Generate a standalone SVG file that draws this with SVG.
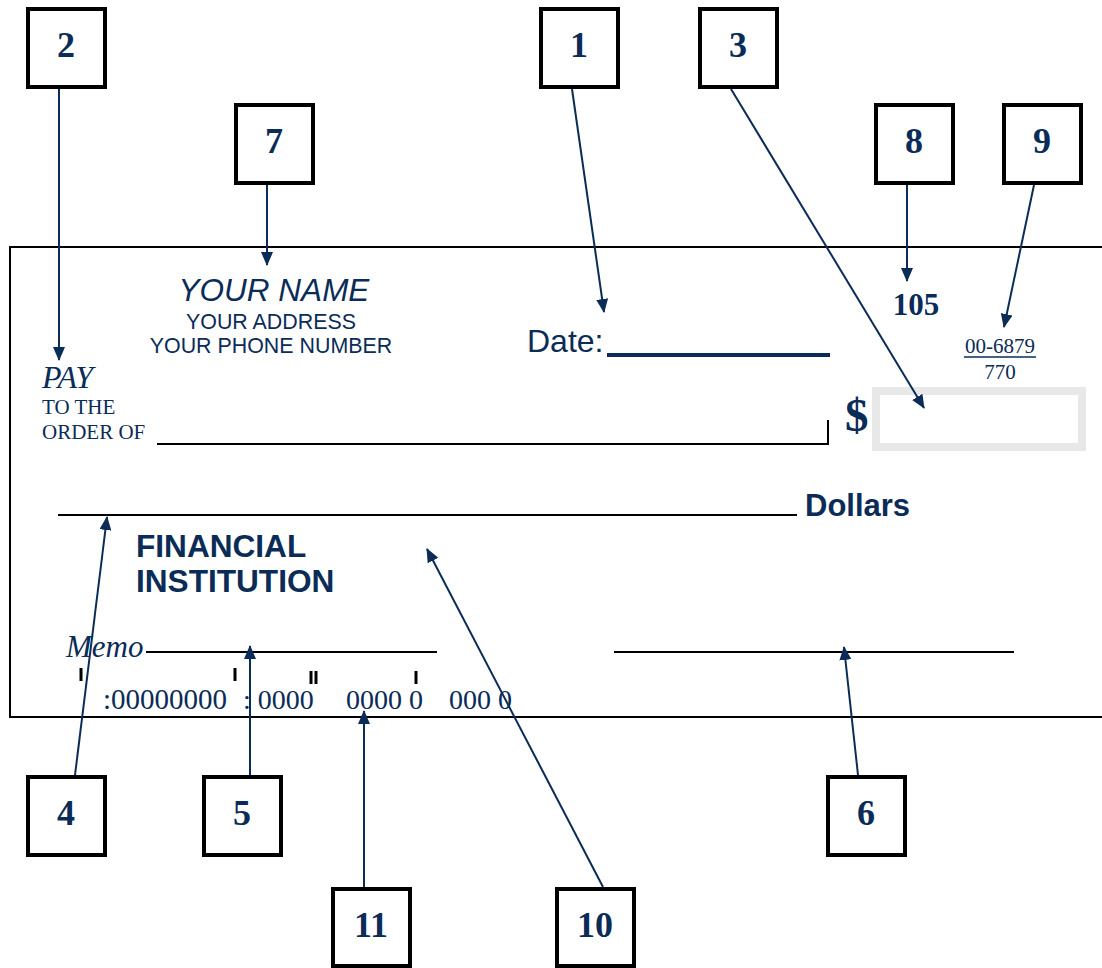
<svg xmlns="http://www.w3.org/2000/svg" width="1102" height="968" viewBox="0 0 1102 968">
<style>
.box{fill:#fff;stroke:#000;stroke-width:4}
.num{font-family:"Liberation Serif",serif;font-weight:bold;font-size:36px;fill:#0a2c57;text-anchor:middle}
.con{stroke:#0a2c57;stroke-width:2;fill:none;marker-end:url(#ah)}
.sans{font-family:"Liberation Sans",Arial,sans-serif;fill:#0a2c57}
.serif{font-family:"Liberation Serif",serif;fill:#0a2c57}
.rule{stroke:#000;stroke-width:2;fill:none}
</style>
<defs>
<marker id="ah" markerUnits="userSpaceOnUse" markerWidth="14" markerHeight="12" refX="13" refY="6" orient="auto">
<path d="M0,0 L14,6 L0,12 Z" fill="#0a2c57"/>
</marker>
</defs>
<rect width="1102" height="968" fill="#fff"/>
<g id="check">
<rect x="10" y="247" width="1100" height="470" fill="none" stroke="#000" stroke-width="2"/>
<text class="sans" x="274" y="301" font-size="31.5" font-style="italic" text-anchor="middle">YOUR NAME</text>
<text class="sans" x="271" y="329" font-size="21.4" text-anchor="middle">YOUR ADDRESS</text>
<text class="sans" x="271" y="353" font-size="21.4" text-anchor="middle">YOUR PHONE NUMBER</text>
<text class="sans" x="527" y="352" font-size="32">Date:</text>
<line x1="607" y1="355" x2="830" y2="355" stroke="#0a2c57" stroke-width="4"/>
<text class="serif" x="916" y="315" font-size="31" font-weight="bold" text-anchor="middle">105</text>
<text class="serif" x="1000" y="353" font-size="21" text-anchor="middle">00-6879</text>
<line x1="964" y1="357" x2="1036" y2="357" stroke="#0a2c57" stroke-width="1.5"/>
<text class="serif" x="1000" y="379" font-size="21" text-anchor="middle">770</text>
<text class="serif" x="42" y="388" font-size="32" font-style="italic">PAY</text>
<text class="serif" x="42" y="414" font-size="21">TO THE</text>
<text class="serif" x="42" y="439" font-size="21">ORDER OF</text>
<path class="rule" d="M157,444 H828 V420"/>
<text class="serif" x="845" y="431" font-size="47" font-weight="bold">$</text>
<rect x="876" y="391" width="206" height="56" fill="none" stroke="#e8e8e8" stroke-width="8"/>
<line class="rule" x1="58" y1="515" x2="797" y2="515"/>
<text class="sans" x="805" y="516" font-size="31" font-weight="bold">Dollars</text>
<text class="sans" x="136" y="557" font-size="31.6" font-weight="bold">FINANCIAL</text>
<text class="sans" x="136" y="592" font-size="31.6" font-weight="bold">INSTITUTION</text>
<text class="serif" x="66" y="657" font-size="31" font-style="italic">Memo</text>
<line class="rule" x1="146" y1="652" x2="437" y2="652"/>
<line class="rule" x1="614" y1="652" x2="1014" y2="652"/>
<g stroke="#000" stroke-width="3">
<line x1="81" y1="668" x2="81" y2="681"/>
<line x1="235" y1="668" x2="235" y2="681"/>
<line x1="311" y1="671" x2="311" y2="684"/>
<line x1="316" y1="671" x2="316" y2="684"/>
<line x1="416" y1="671" x2="416" y2="684"/>
</g>
<text class="serif" x="103" y="709" font-size="29">:00000000</text>
<text class="serif" x="243" y="709" font-size="28">: 0000</text>
<text class="serif" x="346" y="709" font-size="28">0000 0</text>
<text class="serif" x="449" y="709" font-size="28">000 0</text>
</g>
<g id="connectors">
<line class="con" x1="59" y1="89" x2="59" y2="360"/>
<line class="con" x1="267" y1="185" x2="267" y2="265"/>
<line class="con" x1="572" y1="89" x2="604" y2="312"/>
<line class="con" x1="731" y1="89" x2="924" y2="408"/>
<line class="con" x1="907" y1="185" x2="907" y2="281"/>
<line class="con" x1="1034" y1="185" x2="1004" y2="327"/>
<line class="con" x1="75" y1="775" x2="107" y2="517"/>
<line class="con" x1="250" y1="775" x2="250" y2="646"/>
<line class="con" x1="364" y1="887" x2="364" y2="711"/>
<line class="con" x1="603" y1="887" x2="427" y2="549"/>
<line class="con" x1="858" y1="775" x2="844" y2="647"/>
</g>
<g id="n2"><rect class="box" x="28" y="9" width="77" height="78"/><text class="num" x="66" y="57">2</text></g>
<g id="n1"><rect class="box" x="541" y="9" width="77" height="78"/><text class="num" x="579" y="57">1</text></g>
<g id="n3"><rect class="box" x="700" y="9" width="77" height="78"/><text class="num" x="738" y="57">3</text></g>
<g id="n7"><rect class="box" x="236" y="105" width="77" height="78"/><text class="num" x="274" y="153">7</text></g>
<g id="n8"><rect class="box" x="876" y="105" width="77" height="78"/><text class="num" x="914" y="153">8</text></g>
<g id="n9"><rect class="box" x="1004" y="105" width="77" height="78"/><text class="num" x="1042" y="153">9</text></g>
<g id="n4"><rect class="box" x="28" y="777" width="77" height="78"/><text class="num" x="66" y="825">4</text></g>
<g id="n5"><rect class="box" x="204" y="777" width="77" height="78"/><text class="num" x="242" y="825">5</text></g>
<g id="n6"><rect class="box" x="828" y="777" width="77" height="78"/><text class="num" x="866" y="825">6</text></g>
<g id="n11"><rect class="box" x="333" y="889" width="77" height="77"/><text class="num" x="371" y="937">11</text></g>
<g id="n10"><rect class="box" x="557" y="889" width="77" height="77"/><text class="num" x="595" y="937">10</text></g>
</svg>
